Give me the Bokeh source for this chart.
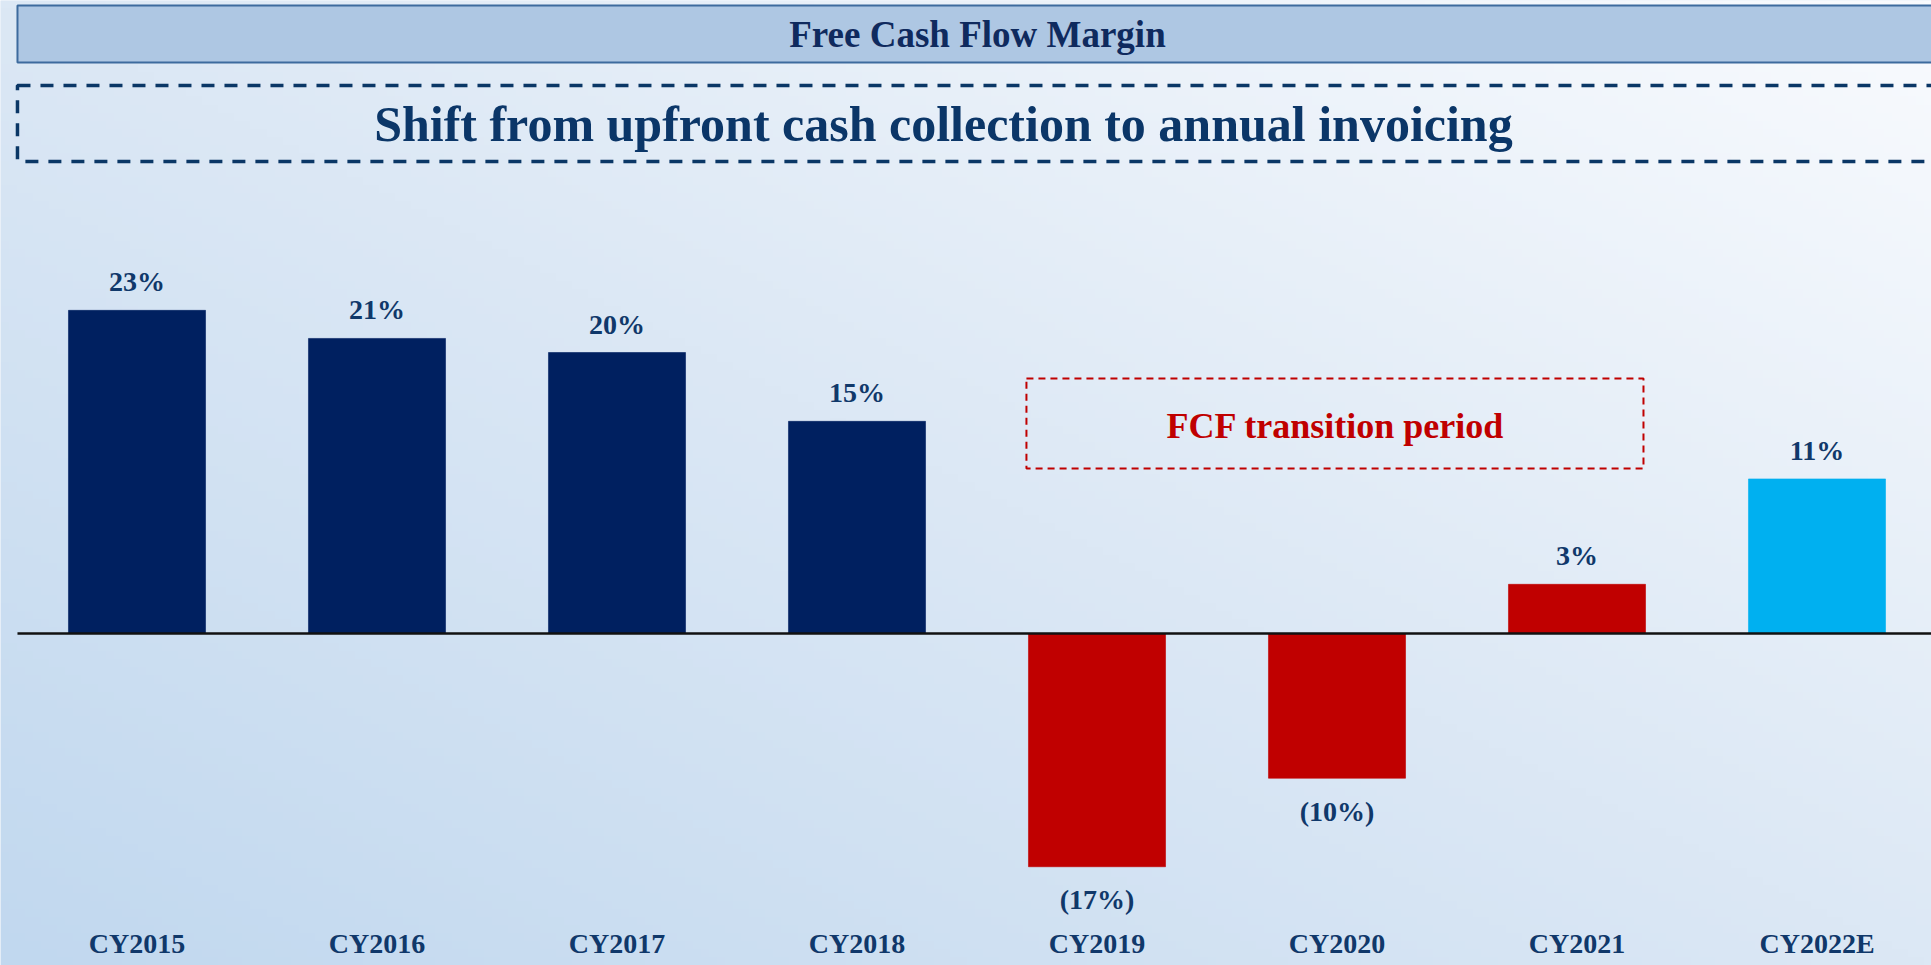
import numpy as np
from bokeh.plotting import figure
from bokeh.models import Range1d, ColumnDataSource
from bokeh.core.properties import value
from bokeh.embed import file_html
from bokeh.resources import INLINE

# ---- data ----
categories = ["CY2015", "CY2016", "CY2017", "CY2018", "CY2019", "CY2020", "CY2021", "CY2022E"]
fcf_margin = [23.0, 21.0, 20.0, 15.1, -16.6, -10.3, 3.5, 11.0]
value_labels = ["23%", "21%", "20%", "15%", "(17%)", "(10%)", "3%", "11%"]
header_text = "Free Cash Flow Margin"
title_text = "Shift from upfront cash collection to annual invoicing"
callout_text = "FCF transition period"

# ---- styles ----
bar_colors = ["#002060", "#002060", "#002060", "#002060", "#C00000", "#C00000", "#C00000", "#00B0F0"]
label_color = "#10386a"
serif = value("Liberation Serif")

W, H = 1931, 965
px_per_pct = 14.05
zero_px = 633.0
y_top = zero_px / px_per_pct
y_bot = -(H - zero_px) / px_per_pct
x0 = 136.5
step = 240.0
x_left = (0 - x0) / step
x_right = (W - x0) / step

p = figure(width=W, height=H, output_backend="svg", toolbar_location=None,
           x_range=Range1d(x_left, x_right), y_range=Range1d(y_bot, y_top),
           x_axis_location=None, y_axis_location=None, min_border=0,
           tools="")
p.grid.visible = False
p.outline_line_color = None
p.background_fill_color = "#E2ECF7"
p.border_fill_color = "#E2ECF7"

# background gradient (bottom-left darker blue -> top-right near white)
nx, ny = 240, 120
u = np.linspace(0, 1, nx)[None, :]
v = np.linspace(0, 1, ny)[:, None]
t = (u + v) / 2.0
c0 = np.array([193, 216, 239], dtype=float)
c1 = np.array([220, 232, 245], dtype=float)
c2 = np.array([249, 251, 254], dtype=float)
img = np.empty((ny, nx), dtype=np.uint32)
view = img.view(dtype=np.uint8).reshape((ny, nx, 4))
for k in range(3):
    ch = np.where(t < 0.5, c0[k] + (c1[k] - c0[k]) * (t / 0.5),
                  c1[k] + (c2[k] - c1[k]) * ((t - 0.5) / 0.5))
    view[:, :, k] = np.clip(ch, 0, 255).astype(np.uint8)
view[:, :, 3] = 255
p.image_rgba(image=[img], x=x_left, y=y_bot, dw=x_right - x_left, dh=y_top - y_bot)

# header band
p.quad(left=[-0.498], right=[x_right + 0.2], top=[44.7], bottom=[40.64],
       fill_color="#AEC7E3", line_color="#3D6B9E", line_width=2)
p.text(x=[3.502], y=[42.6], text=[header_text], text_font=serif, text_font_style="bold",
       text_font_size="37px", text_color="#0f2a5e", text_align="center", text_baseline="middle")

# dashed title box
p.quad(left=[-0.498], right=[x_right + 0.2], top=[39.0], bottom=[33.6],
       fill_color=None, line_color="#0a3766", line_width=3.5, line_dash="13 10")
p.text(x=[3.36], y=[36.25], text=[title_text], text_font=serif, text_font_style="bold",
       text_font_size="50px", text_color="#0b3668", text_align="center", text_baseline="middle")

# bars
idx = np.arange(len(categories))
src = ColumnDataSource(dict(x=idx, top=fcf_margin, color=bar_colors))
p.vbar(x="x", top="top", bottom=0, width=0.571, source=src,
       fill_color="color", line_color="color", line_alpha=0.6, line_width=1)

# zero line
p.line(x=[-0.498, x_right + 0.2], y=[0, 0], line_color="#111111", line_width=2.5)

# value labels
lab_y = [vv + 28.5 / px_per_pct if vv >= 0 else vv - 33.0 / px_per_pct for vv in fcf_margin]
p.text(x=idx, y=lab_y, text=value_labels, text_font=serif, text_font_style="bold",
       text_font_size="28px", text_color=label_color, text_align="center", text_baseline="middle")

# category labels
p.text(x=idx, y=[(zero_px - 943) / px_per_pct] * len(categories), text=categories,
       text_font=serif, text_font_style="bold", text_font_size="28px", text_color=label_color,
       text_align="center", text_baseline="middle")

# transition callout
p.quad(left=[3.706], right=[6.277], top=[18.15], bottom=[11.74], fill_color=None,
       line_color="#C00000", line_width=2, line_dash="7 5")
p.text(x=[4.994], y=[14.75], text=[callout_text], text_font=serif, text_font_style="bold",
       text_font_size="36px", text_color="#C00000", text_align="center", text_baseline="middle")

open("out.html", "w").write(file_html(p, INLINE))
